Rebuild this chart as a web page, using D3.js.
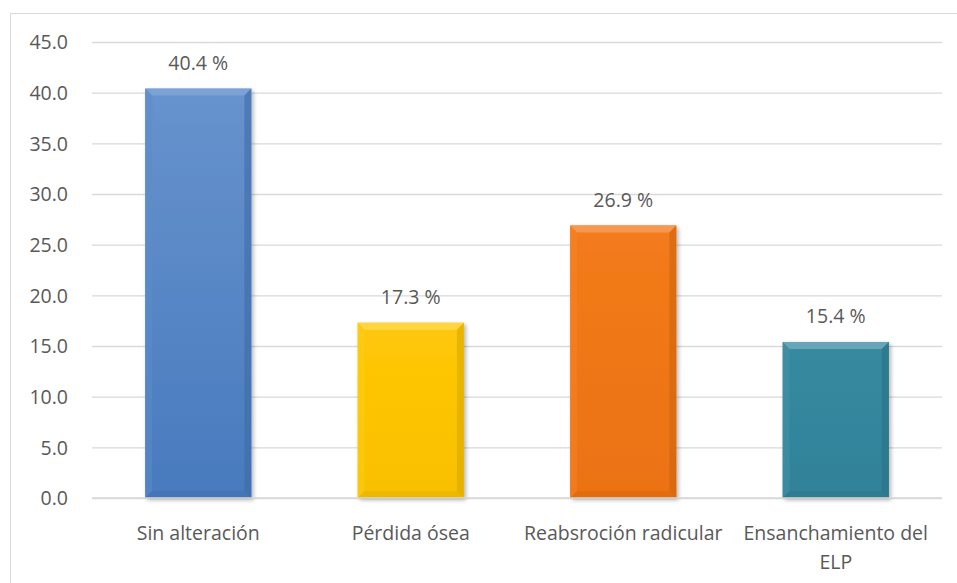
<!DOCTYPE html>
<html>
<head>
<meta charset="utf-8">
<script src="https://cdn.jsdelivr.net/npm/d3@7"></script>
<style>
  html, body { margin: 0; padding: 0; background: #ffffff; }
  svg { display: block; }
  text { font-family: "Open Sans", "Liberation Sans", sans-serif; fill: #595959; }
</style>
</head>
<body>
<svg id="chart" width="957" height="583"></svg>
<script>
// Categories and percentages
const categories = ["Sin alteración", "Pérdida ósea", "Reabsroción radicular", "Ensanchamiento del ELP"];
const values = [40.4, 17.3, 26.9, 15.4];
const barColors = ["#4a7ec4", "#ffc600", "#f27511", "#31869d"];
const barSheen = [0.16, 0.03, 0.04, 0.03];
const yTicks = [0, 5, 10, 15, 20, 25, 30, 35, 40, 45];

const svg = d3.select("#chart");
const W = 957, H = 583;
const m = { left: 92, right: 15, top: 42, bottom: 85 };
const FS = 19.5;

// Chart frame
svg.append("rect")
  .attr("x", 10.5).attr("y", 13.5)
  .attr("width", W).attr("height", H)
  .attr("fill", "#fff").attr("stroke", "#d9d9d9").attr("stroke-width", 1);

const x = d3.scaleBand().domain(categories)
  .range([m.left, W - m.right]).paddingInner(0.5).paddingOuter(0.25);
const y = d3.scaleLinear().domain([0, 45]).range([H - m.bottom, m.top]);

// Gridlines and tick labels
const yAxis = d3.axisLeft(y).tickValues(yTicks).tickFormat(d3.format(".1f"))
  .tickSize(-(W - m.right - m.left)).tickPadding(24);
const gy = svg.append("g").attr("transform", `translate(${m.left},0)`).call(yAxis);
gy.select(".domain").remove();
gy.selectAll(".tick line").attr("stroke", "#d9d9d9").attr("stroke-width", 1.3);
gy.selectAll(".tick text").attr("font-size", FS).attr("fill", "#595959").attr("dy", "0.35em");

const defs = svg.append("defs");
const shadow = defs.append("filter").attr("id", "shadow")
  .attr("x", "-10%").attr("y", "-10%").attr("width", "130%").attr("height", "130%");
shadow.append("feGaussianBlur").attr("in", "SourceAlpha").attr("stdDeviation", 2);
shadow.append("feOffset").attr("dx", 2).attr("dy", 2).attr("result", "b");
shadow.append("feComponentTransfer").append("feFuncA").attr("type", "linear").attr("slope", 0.3);
const mg = shadow.append("feMerge");
mg.append("feMergeNode");
mg.append("feMergeNode").attr("in", "SourceGraphic");

// Bevelled bars
const bev = 7;
const data = categories.map((c, i) => ({ c, v: values[i], col: barColors[i], sheen: barSheen[i], i }));

data.forEach(d => {
  const base = d3.color(d.col);
  const gr = defs.append("linearGradient").attr("id", "grad" + d.i)
    .attr("x1", 0).attr("y1", 0).attr("x2", 0).attr("y2", 1);
  gr.append("stop").attr("offset", "0%").attr("stop-color", d3.interpolateRgb(d.col, "#ffffff")(d.sheen));
  gr.append("stop").attr("offset", "100%").attr("stop-color", base.darker(0.08));
});

const bars = svg.append("g").selectAll("g.bar").data(data).join("g").attr("class", "bar");

bars.each(function(d) {
  const g = d3.select(this);
  const x0 = x(d.c), w = x.bandwidth(), y0 = y(d.v), y1 = y(0);
  const base = d3.color(d.col);
  g.append("rect").attr("x", x0).attr("y", y0).attr("width", w).attr("height", y1 - y0)
    .attr("fill", `url(#grad${d.i})`).attr("filter", "url(#shadow)");
  const poly = (pts, fill, op) => g.append("polygon")
    .attr("points", pts.map(p => p.join(",")).join(" "))
    .attr("fill", fill).attr("opacity", op);
  // top
  poly([[x0, y0], [x0 + w, y0], [x0 + w - bev, y0 + bev], [x0 + bev, y0 + bev]], d3.interpolateRgb(d.col, "#ffffff")(0.3), 0.85);
  // left
  poly([[x0, y0], [x0 + bev, y0 + bev], [x0 + bev, y1 - bev], [x0, y1]], d3.interpolateRgb(d.col, "#ffffff")(0.1), 0.5);
  // right
  poly([[x0 + w, y0], [x0 + w, y1], [x0 + w - bev, y1 - bev], [x0 + w - bev, y0 + bev]], base.darker(0.45), 0.6);
  // bottom
  poly([[x0, y1], [x0 + bev, y1 - bev], [x0 + w - bev, y1 - bev], [x0 + w, y1]], base.darker(0.3), 0.6);
  // value label
  g.append("text").attr("x", x0 + w / 2).attr("y", y0 - 18.5)
    .attr("text-anchor", "middle").attr("font-size", FS)
    .text(d3.format(".1f")(d.v) + " %");
});

// Baseline
svg.append("line").attr("x1", m.left).attr("x2", W - m.right)
  .attr("y1", y(0)).attr("y2", y(0)).attr("stroke", "#d9d9d9").attr("stroke-width", 1.3);

// Category labels (wrapped to the band step)
const step = x.step();
categories.forEach(c => {
  const cx = x(c) + x.bandwidth() / 2;
  const t = svg.append("text").attr("x", cx).attr("y", H - m.bottom + 42)
    .attr("text-anchor", "middle").attr("font-size", FS);
  const words = c.split(" ");
  let line = [], lines = [];
  const probe = svg.append("text").attr("font-size", FS).attr("visibility", "hidden");
  words.forEach(wd => {
    const trial = line.concat(wd).join(" ");
    probe.text(trial);
    if (probe.node().getComputedTextLength() > step && line.length) {
      lines.push(line.join(" ")); line = [wd];
    } else line.push(wd);
  });
  lines.push(line.join(" "));
  probe.remove();
  lines.forEach((l, i) => t.append("tspan").attr("x", cx).attr("dy", i ? 29 : 0).text(l));
});
</script>
</body>
</html>
